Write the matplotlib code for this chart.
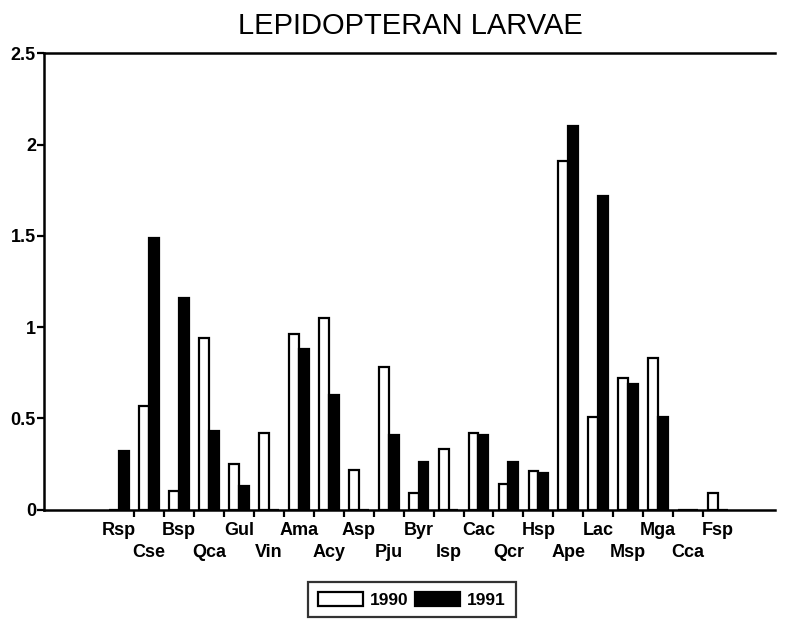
import matplotlib.pyplot as plt
import numpy as np

plt.rcParams['font.family'] = ['Liberation Sans', 'DejaVu Sans']

# Species codes and values
species = ["Rsp", "Cse", "Bsp", "Qca", "Gul", "Vin", "Ama", "Acy", "Asp", "Pju", "Byr",
           "Isp", "Cac", "Qcr", "Hsp", "Ape", "Lac", "Msp", "Mga", "Cca", "Fsp"]
y1990 = [0.0, 0.57, 0.10, 0.94, 0.25, 0.42, 0.96, 1.05, 0.22, 0.78, 0.09,
         0.33, 0.42, 0.14, 0.21, 1.91, 0.51, 0.72, 0.83, 0.0, 0.09]
y1991 = [0.32, 1.49, 1.16, 0.43, 0.13, 0.0, 0.88, 0.63, 0.0, 0.41, 0.26,
         0.0, 0.41, 0.26, 0.20, 2.10, 1.72, 0.69, 0.51, 0.0, 0.0]

x = np.arange(len(species))
w = 0.33

fig = plt.figure(figsize=(7.9, 6.27), dpi=100)
ax = fig.add_axes([0.056, 0.187, 0.925, 0.728])

ax.bar(x - w / 2, y1990, w, color="white", edgecolor="black", linewidth=1.6, label="1990")
ax.bar(x + w / 2, y1991, w, color="black", edgecolor="black", linewidth=1.6, label="1991")

ax.set_xlim(-2.5, 21.9)
ax.set_ylim(0, 2.5)
ax.set_yticks([0, 0.5, 1, 1.5, 2, 2.5])
ax.set_yticklabels(["0", "0.5", "1", "1.5", "2", "2.5"], fontsize=13, fontweight="bold")

# ticks between categories, labels staggered in two rows
ax.set_xticks(x[:-1] + 0.5)
ax.set_xticklabels([])
for i, name in enumerate(species):
    yoff = -0.045 if i % 2 == 0 else -0.093
    ax.text(i, yoff, name, ha="center", va="center", fontsize=13, fontweight="bold",
            transform=ax.get_xaxis_transform())

ax.tick_params(direction="out", length=5, width=1.6, colors="black", pad=1)
ax.spines["right"].set_visible(False)
for s in ["left", "top", "bottom"]:
    ax.spines[s].set_linewidth(1.8)

fig.text(0.52, 0.958, "LEPIDOPTERAN LARVAE", ha="center", va="center", fontsize=21)

leg = ax.legend(loc="center", bbox_to_anchor=(0.503, -0.197), ncol=2,
                frameon=True, fancybox=False, handlelength=2.6, handleheight=0.85,
                handletextpad=0.4, columnspacing=0.4, borderpad=0.55,
                prop={"weight": "bold", "size": 12.5})
leg.get_frame().set_edgecolor("black")
leg.get_frame().set_linewidth(1.6)

plt.savefig("out.png", dpi=100)
